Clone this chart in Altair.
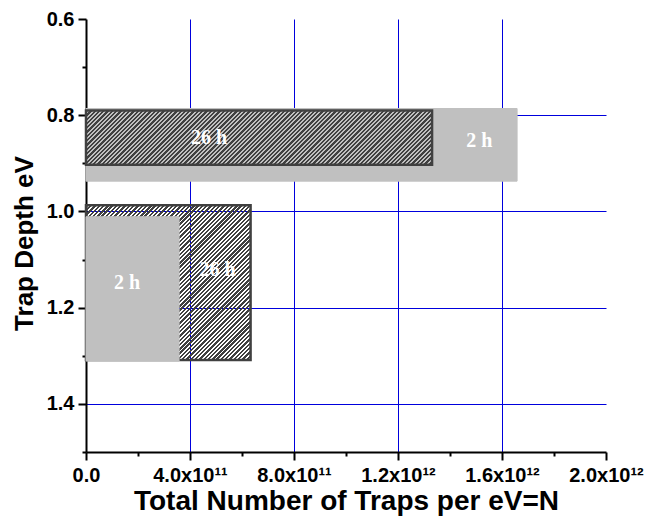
import math
import altair as alt
import pandas as pd

# ---------------- data ----------------
bar_series = ["2 h", "26 h", "26 h", "2 h"]
bar_values = [1.658e12, 1.331e12, 6.33e11, 3.58e11]
bar_y_top = [0.786, 0.790, 0.987, 1.011]
bar_y_bottom = [0.937, 0.903, 1.309, 1.311]
bar_hatched = [False, True, True, False]

label_texts = ["26 h", "2 h", "2 h", "26 h"]
label_x = [4.73e11, 1.513e12, 1.58e11, 5.06e11]
label_y = [0.848, 0.853, 1.148, 1.122]

x_tick_vals = [0, 2e11, 4e11, 6e11, 8e11, 1.0e12, 1.2e12, 1.4e12, 1.6e12, 1.8e12, 2.0e12]
x_major_vals = [0, 4e11, 8e11, 1.2e12, 1.6e12, 2.0e12]
x_major_labels = ["0.0", "4.0x10¹¹", "8.0x10¹¹", "1.2x10¹²", "1.6x10¹²", "2.0x10¹²"]

y_tick_vals = [0.6, 0.7, 0.8, 0.9, 1.0, 1.1, 1.2, 1.3, 1.4, 1.5]
y_major_vals = [0.6, 0.8, 1.0, 1.2, 1.4]
y_major_labels = ["0.6", "0.8", "1.0", "1.2", "1.4"]

X_DOMAIN = [0, 2e12]
Y_DOMAIN = [0.6, 1.5]
PW, PH = 520, 433

GRAY = "#c0c0c0"
DARK = "#404040"
GRID = "#0000dd"


def label_expr(vals, labels, tol):
    expr = "''"
    for v, l in reversed(list(zip(vals, labels))):
        expr = f"abs(datum.value - ({v!r})) < {tol} ? '{l}' : ({expr})"
    return expr


def hatch_gradient(w_px, h_px, period=4.3, frac=0.55):
    n = (w_px + h_px) / period
    stops = []
    i = 0
    while i / n < 1:
        t0 = i / n
        t1 = min((i + frac) / n, 1)
        t2 = min((i + 1) / n, 1)
        stops += [
            alt.GradientStop(offset=t0, color="rgba(64,64,64,1)"),
            alt.GradientStop(offset=t1, color="rgba(64,64,64,1)"),
            alt.GradientStop(offset=t1, color="rgba(64,64,64,0)"),
            alt.GradientStop(offset=t2, color="rgba(64,64,64,0)"),
        ]
        i += 1
    r = h_px / w_px
    s = (1 + r) / (1 + r * r)
    return alt.LinearGradient(gradient="linear", stops=stops, x1=0, y1=0, x2=s, y2=s * r)


x_major_test = "abs(datum.value/2e11 - 2*round(datum.value/4e11)) < 0.01"
y_major_test = "abs(datum.value*10 - 2*round(datum.value*5)) < 0.01"

x_axis = alt.Axis(
    values=x_tick_vals,
    labelExpr=label_expr(x_major_vals, x_major_labels, 1e9),
    labelFont="Liberation Sans", labelFontWeight="bold", labelFontSize=20,
    labelColor="black", labelPadding=5, labelFlush=False, labelOverlap=False,
    tickColor="black", tickWidth=2,
    tickSize={"condition": {"test": x_major_test, "value": 8}, "value": 4},
    domainColor="black", domainWidth=2,
    grid=True, gridColor=GRID, gridWidth=1,
    gridOpacity={"condition": {"test": x_major_test + " && datum.value > 1e10 && datum.value < 1.9e12", "value": 1}, "value": 0},
    title="Total Number of Traps per eV=N",
    titleFont="Liberation Sans", titleFontWeight="bold", titleFontSize=28,
    titleColor="black", titlePadding=2,
)

y_axis = alt.Axis(
    values=y_tick_vals,
    labelExpr=label_expr(y_major_vals, y_major_labels, 0.01),
    labelFont="Liberation Sans", labelFontWeight="bold", labelFontSize=20,
    labelColor="black", labelPadding=4, labelFlush=False, labelOverlap=False,
    tickColor="black", tickWidth=2,
    tickSize={"condition": {"test": y_major_test, "value": 8}, "value": 4},
    domainColor="black", domainWidth=2,
    grid=True, gridColor=GRID, gridWidth=1,
    gridOpacity={"condition": {"test": y_major_test + " && datum.value > 0.65 && datum.value < 1.45", "value": 1}, "value": 0},
    title="Trap Depth eV",
    titleFont="Liberation Sans", titleFontWeight="bold", titleFontSize=26,
    titleColor="black", titlePadding=9, titleY=224,
)

xs = alt.Scale(domain=X_DOMAIN, nice=False, zero=False)
ys = alt.Scale(domain=Y_DOMAIN, nice=False, zero=False, reverse=True)

layers = []
for idx in range(len(bar_values)):
    df = pd.DataFrame({
        "x0": [0.0], "x1": [bar_values[idx]],
        "y0": [bar_y_top[idx]], "y1": [bar_y_bottom[idx]],
        "series": [bar_series[idx]],
    })
    if bar_hatched[idx]:
        w_px = bar_values[idx] / X_DOMAIN[1] * PW
        h_px = (bar_y_bottom[idx] - bar_y_top[idx]) / (Y_DOMAIN[1] - Y_DOMAIN[0]) * PH
        mark = alt.Chart(df).mark_rect(fill=hatch_gradient(w_px, h_px), stroke=DARK, strokeWidth=2.5)
    else:
        mark = alt.Chart(df).mark_rect(fill=GRAY, stroke=GRAY, strokeWidth=1)
    mark = mark.encode(
        x=alt.X("x0:Q", scale=xs, axis=x_axis),
        x2="x1",
        y=alt.Y("y0:Q", scale=ys, axis=y_axis),
        y2="y1",
    )
    layers.append(mark)

labels_df = pd.DataFrame({"text": label_texts, "x0": label_x, "y0": label_y})
text = alt.Chart(labels_df).mark_text(
    font="Liberation Serif", fontWeight="bold", fontSize=20, color="white",
    align="center", baseline="middle",
).encode(
    x=alt.X("x0:Q", scale=xs, axis=x_axis),
    y=alt.Y("y0:Q", scale=ys, axis=y_axis),
    text="text:N",
)
layers.append(text)

chart = alt.layer(*layers).properties(
    width=PW, height=PH,
    autosize=alt.AutoSizeParams(type="none"),
    padding={"left": 86, "top": 19, "right": 53, "bottom": 66},
    background="white",
).configure_view(stroke=None)

chart.save("out.html", embed_options={"renderer": "svg", "actions": False})
